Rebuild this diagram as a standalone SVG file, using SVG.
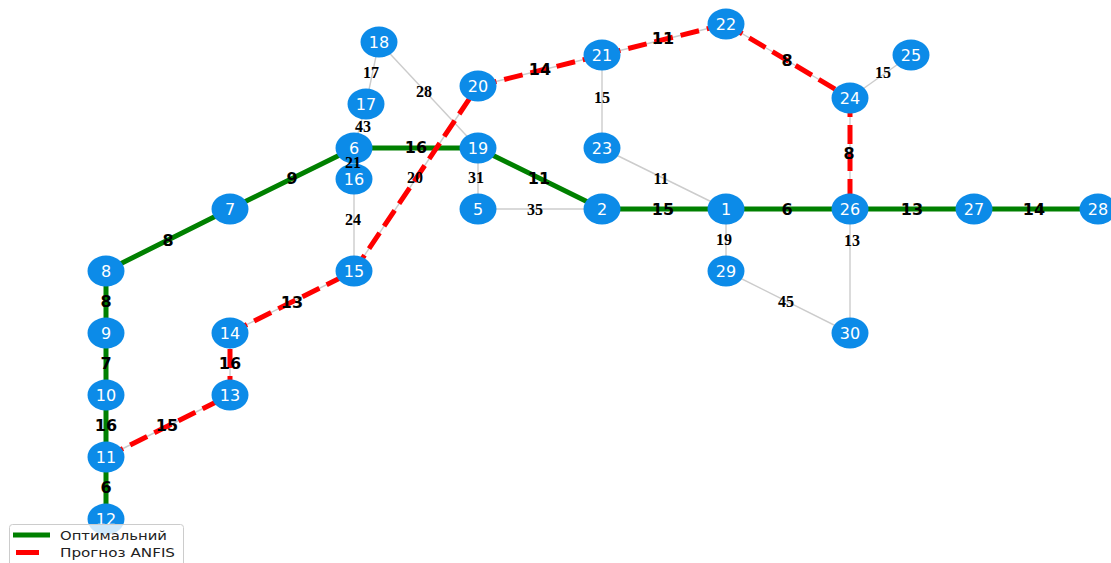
<svg xmlns="http://www.w3.org/2000/svg" width="1111" height="563" viewBox="0 0 1111 563">
<style>
.e{stroke:#cccccc;stroke-width:1.4;fill:none}
.g{stroke:#008000;stroke-width:5;fill:none}
.r{stroke:#ff0000;stroke-width:5;fill:none;stroke-dasharray:19 8}
.n ellipse{fill:#0c8be8}
.n text{fill:#ffffff;font-family:"DejaVu Sans",sans-serif;font-size:16px;text-anchor:middle}
.lw{font-family:"Liberation Serif",serif;font-weight:bold;font-size:16px;text-anchor:middle;fill:#000}
.lb{font-family:"DejaVu Sans",sans-serif;font-weight:bold;font-size:16px;text-anchor:middle;fill:#000}
.lg{font-family:"DejaVu Sans",sans-serif;font-size:13px;fill:#222}
</style>
<rect width="1111" height="563" fill="#ffffff"/>
<g id="connectors">
<g id="gray-edges">
<line class="e" x1="379" y1="42" x2="366" y2="104"/>
<line class="e" x1="379" y1="42" x2="478" y2="148"/>
<line class="e" x1="366" y1="104" x2="354" y2="148"/>
<line class="e" x1="354" y1="148" x2="354" y2="179"/>
<line class="e" x1="354" y1="148" x2="478" y2="148"/>
<line class="e" x1="354" y1="148" x2="230" y2="209"/>
<line class="e" x1="230" y1="209" x2="106" y2="271"/>
<line class="e" x1="106" y1="271" x2="106" y2="333"/>
<line class="e" x1="106" y1="333" x2="106" y2="395"/>
<line class="e" x1="106" y1="395" x2="106" y2="457"/>
<line class="e" x1="106" y1="457" x2="106" y2="519"/>
<line class="e" x1="354" y1="179" x2="354" y2="271"/>
<line class="e" x1="354" y1="271" x2="230" y2="333"/>
<line class="e" x1="230" y1="333" x2="230" y2="395"/>
<line class="e" x1="230" y1="395" x2="106" y2="457"/>
<line class="e" x1="354" y1="271" x2="478" y2="86"/>
<line class="e" x1="478" y1="148" x2="478" y2="209"/>
<line class="e" x1="478" y1="148" x2="602" y2="209"/>
<line class="e" x1="478" y1="209" x2="602" y2="209"/>
<line class="e" x1="478" y1="86" x2="602" y2="55"/>
<line class="e" x1="602" y1="55" x2="726" y2="24"/>
<line class="e" x1="602" y1="55" x2="602" y2="148"/>
<line class="e" x1="602" y1="148" x2="726" y2="209"/>
<line class="e" x1="602" y1="209" x2="726" y2="209"/>
<line class="e" x1="726" y1="209" x2="850" y2="209"/>
<line class="e" x1="726" y1="209" x2="726" y2="271"/>
<line class="e" x1="726" y1="24" x2="850" y2="98"/>
<line class="e" x1="850" y1="98" x2="911" y2="55"/>
<line class="e" x1="850" y1="98" x2="850" y2="209"/>
<line class="e" x1="850" y1="209" x2="974" y2="209"/>
<line class="e" x1="974" y1="209" x2="1098" y2="209"/>
<line class="e" x1="850" y1="209" x2="850" y2="333"/>
<line class="e" x1="726" y1="271" x2="850" y2="333"/>
</g>
<g id="optimal-path">
<polyline class="g" points="106,519 106,457 106,395 106,333 106,271 230,209 354,148 478,148 602,209 726,209 850,209 974,209 1098,209"/>
</g>
<g id="anfis-path">
<line class="r" x1="106" y1="457" x2="230" y2="395"/>
<line class="r" x1="230" y1="395" x2="230" y2="333"/>
<line class="r" x1="230" y1="333" x2="354" y2="271"/>
<line class="r" x1="354" y1="271" x2="478" y2="86"/>
<line class="r" x1="478" y1="86" x2="602" y2="55"/>
<line class="r" x1="602" y1="55" x2="726" y2="24"/>
<line class="r" x1="726" y1="24" x2="850" y2="98"/>
<line class="r" x1="850" y1="98" x2="850" y2="209"/>
</g>
</g>
<g id="nodes" class="n">
<g id="n1"><ellipse cx="726" cy="209" rx="18.5" ry="15.5"/><text x="726" y="215">1</text></g>
<g id="n2"><ellipse cx="602" cy="209" rx="18.5" ry="15.5"/><text x="602" y="215">2</text></g>
<g id="n5"><ellipse cx="478" cy="209" rx="18.5" ry="15.5"/><text x="478" y="215">5</text></g>
<g id="n6"><ellipse cx="354" cy="148" rx="18.5" ry="15.5"/><text x="354" y="154">6</text></g>
<g id="n7"><ellipse cx="230" cy="209" rx="18.5" ry="15.5"/><text x="230" y="215">7</text></g>
<g id="n8"><ellipse cx="106" cy="271" rx="18.5" ry="15.5"/><text x="106" y="277">8</text></g>
<g id="n9"><ellipse cx="106" cy="333" rx="18.5" ry="15.5"/><text x="106" y="339">9</text></g>
<g id="n10"><ellipse cx="106" cy="395" rx="18.5" ry="15.5"/><text x="106" y="401">10</text></g>
<g id="n11"><ellipse cx="106" cy="457" rx="18.5" ry="15.5"/><text x="106" y="463">11</text></g>
<g id="n12"><ellipse cx="106" cy="519" rx="18.5" ry="15.5"/><text x="106" y="525">12</text></g>
<g id="n13"><ellipse cx="230" cy="395" rx="18.5" ry="15.5"/><text x="230" y="401">13</text></g>
<g id="n14"><ellipse cx="230" cy="333" rx="18.5" ry="15.5"/><text x="230" y="339">14</text></g>
<g id="n15"><ellipse cx="354" cy="271" rx="18.5" ry="15.5"/><text x="354" y="277">15</text></g>
<g id="n16"><ellipse cx="354" cy="179" rx="18.5" ry="15.5"/><text x="354" y="185">16</text></g>
<g id="n17"><ellipse cx="366" cy="104" rx="18.5" ry="15.5"/><text x="366" y="110">17</text></g>
<g id="n18"><ellipse cx="379" cy="42" rx="18.5" ry="15.5"/><text x="379" y="48">18</text></g>
<g id="n19"><ellipse cx="478" cy="148" rx="18.5" ry="15.5"/><text x="478" y="154">19</text></g>
<g id="n20"><ellipse cx="478" cy="86" rx="18.5" ry="15.5"/><text x="478" y="92">20</text></g>
<g id="n21"><ellipse cx="602" cy="55" rx="18.5" ry="15.5"/><text x="602" y="61">21</text></g>
<g id="n22"><ellipse cx="726" cy="24" rx="18.5" ry="15.5"/><text x="726" y="30">22</text></g>
<g id="n23"><ellipse cx="602" cy="148" rx="18.5" ry="15.5"/><text x="602" y="154">23</text></g>
<g id="n24"><ellipse cx="850" cy="98" rx="18.5" ry="15.5"/><text x="850" y="104">24</text></g>
<g id="n25"><ellipse cx="911" cy="55" rx="18.5" ry="15.5"/><text x="911" y="61">25</text></g>
<g id="n26"><ellipse cx="850" cy="209" rx="18.5" ry="15.5"/><text x="850" y="215">26</text></g>
<g id="n27"><ellipse cx="974" cy="209" rx="18.5" ry="15.5"/><text x="974" y="215">27</text></g>
<g id="n28"><ellipse cx="1098" cy="209" rx="18.5" ry="15.5"/><text x="1098" y="215">28</text></g>
<g id="n29"><ellipse cx="726" cy="271" rx="18.5" ry="15.5"/><text x="726" y="277">29</text></g>
<g id="n30"><ellipse cx="850" cy="333" rx="18.5" ry="15.5"/><text x="850" y="339">30</text></g>
</g>
<g id="edge-labels">
<text class="lw" x="371" y="78">17</text>
<text class="lw" x="424" y="97">28</text>
<text class="lw" x="363" y="132">43</text>
<text class="lw" x="353" y="168">21</text>
<text class="lw" x="353" y="225">24</text>
<text class="lw" x="415" y="183">20</text>
<text class="lw" x="476" y="183">31</text>
<text class="lw" x="535" y="215">35</text>
<text class="lw" x="602" y="103">15</text>
<text class="lw" x="661" y="184">11</text>
<text class="lw" x="724" y="245">19</text>
<text class="lw" x="852" y="246">13</text>
<text class="lw" x="786" y="307">45</text>
<text class="lw" x="883" y="78">15</text>
<text class="lb" x="106" y="307">8</text>
<text class="lb" x="106" y="369">7</text>
<text class="lb" x="106" y="431">16</text>
<text class="lb" x="106" y="493">6</text>
<text class="lb" x="168" y="246">8</text>
<text class="lb" x="292" y="184">9</text>
<text class="lb" x="416" y="153">16</text>
<text class="lb" x="539" y="184">11</text>
<text class="lb" x="663" y="215">15</text>
<text class="lb" x="787" y="215">6</text>
<text class="lb" x="912" y="215">13</text>
<text class="lb" x="1034" y="215">14</text>
<text class="lb" x="167" y="431">15</text>
<text class="lb" x="230" y="369">16</text>
<text class="lb" x="292" y="308">13</text>
<text class="lb" x="540" y="75">14</text>
<text class="lb" x="663" y="44">11</text>
<text class="lb" x="787" y="66">8</text>
<text class="lb" x="849" y="159">8</text>
</g>
<g id="legend">
<rect x="9.5" y="524.5" width="174" height="45" rx="3" fill="#ffffff" fill-opacity="0.8" stroke="#cccccc" stroke-width="1"/>
<line x1="13" y1="535" x2="50" y2="535" stroke="#008000" stroke-width="5"/>
<line x1="16" y1="552.5" x2="39" y2="552.5" stroke="#ff0000" stroke-width="5"/>
<text class="lg" x="60" y="539.5" textLength="107" lengthAdjust="spacingAndGlyphs">Оптимальний</text>
<text class="lg" x="60" y="557" textLength="115" lengthAdjust="spacingAndGlyphs">Прогноз ANFIS</text>
</g>
</svg>
